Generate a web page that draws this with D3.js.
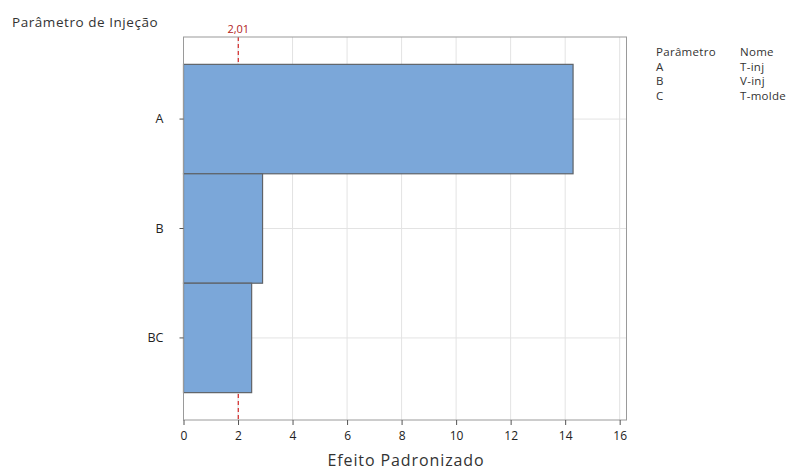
<!DOCTYPE html>
<html>
<head>
<meta charset="utf-8">
<script src="https://d3js.org/d3.v7.min.js"></script>
<style>
  html, body { margin: 0; padding: 0; background: #fff; }
  svg { display: block; font-family: "Open Sans", "Noto Sans", sans-serif; }
</style>
</head>
<body>
<svg id="chart" width="795" height="470"></svg>
<script>
// Pareto of standardized effects
const terms = ["A", "B", "BC"];
const effects = [14.29, 2.90, 2.50];
const xTicks = [0, 2, 4, 6, 8, 10, 12, 14, 16];
const criticalValue = 2.01;
const criticalLabel = "2,01";
const legendParams = ["A", "B", "C"];
const legendNames = ["T-inj", "V-inj", "T-molde"];

const svg = d3.select("#chart");
const plot = { left: 183.5, right: 626.5, top: 37, bottom: 420 };

const x = d3.scaleLinear().domain([0, 16.25]).range([plot.left, plot.right]);
const y = d3.scaleBand().domain(terms).range([plot.top, plot.bottom])
  .paddingInner(0).paddingOuter(0.25);

const gridColor = "#e3e3e3";
const frameColor = "#9a9a9a";

// gridlines
svg.append("g").selectAll("line.vg").data(xTicks.filter(d => d > 0)).join("line")
  .attr("x1", d => x(d)).attr("x2", d => x(d))
  .attr("y1", plot.top).attr("y2", plot.bottom)
  .attr("stroke", gridColor).attr("stroke-width", 1);
svg.append("g").selectAll("line.hg").data(terms).join("line")
  .attr("x1", plot.left).attr("x2", plot.right)
  .attr("y1", d => y(d) + y.bandwidth() / 2).attr("y2", d => y(d) + y.bandwidth() / 2)
  .attr("stroke", gridColor).attr("stroke-width", 1);

// critical value reference line (sits behind the bars)
svg.append("line")
  .attr("x1", x(criticalValue)).attr("x2", x(criticalValue))
  .attr("y1", plot.top).attr("y2", plot.bottom)
  .attr("stroke", "#d42a2a").attr("stroke-width", 1.2)
  .attr("stroke-dasharray", "4,3");
svg.append("text")
  .attr("x", x(criticalValue)).attr("y", 33)
  .attr("text-anchor", "middle")
  .attr("fill", "#b22222").attr("font-size", 11)
  .text(criticalLabel);

// bars
svg.append("g").selectAll("rect").data(terms).join("rect")
  .attr("x", x(0))
  .attr("y", d => y(d))
  .attr("width", (d, i) => x(effects[i]) - x(0))
  .attr("height", y.bandwidth())
  .attr("fill", "#7ba7d9")
  .attr("stroke", "#5f6368")
  .attr("stroke-width", 1.2);

// frame
svg.append("rect")
  .attr("x", plot.left).attr("y", plot.top)
  .attr("width", plot.right - plot.left).attr("height", plot.bottom - plot.top)
  .attr("fill", "none").attr("stroke", frameColor).attr("stroke-width", 1);

// x axis
const xAxis = d3.axisBottom(x).tickValues(xTicks).tickSize(5).tickPadding(6)
  .tickFormat(d3.format("d"));
const gx = svg.append("g").attr("transform", `translate(0,${plot.bottom})`).call(xAxis);
gx.select(".domain").remove();
gx.selectAll("line").attr("stroke", "#555");
gx.selectAll("text").attr("font-size", 12).attr("fill", "#222")
  .attr("font-family", "'Open Sans', sans-serif");

// y axis
const yAxis = d3.axisLeft(y).tickSize(4).tickPadding(16);
const gy = svg.append("g").attr("transform", `translate(${plot.left},0)`).call(yAxis);
gy.select(".domain").remove();
gy.selectAll("line").attr("stroke", "#555");
gy.selectAll("text").attr("font-size", 12.5).attr("fill", "#222")
  .attr("font-family", "'Open Sans', sans-serif");

// axis titles
svg.append("text")
  .attr("x", 406).attr("y", 466)
  .attr("text-anchor", "middle").attr("font-size", 16).attr("fill", "#333")
  .attr("letter-spacing", 0.9)
  .text("Efeito Padronizado");
svg.append("text")
  .attr("x", 12).attr("y", 27)
  .attr("font-size", 13.5).attr("fill", "#333")
  .attr("letter-spacing", 0.55)
  .text("Parâmetro de Injeção");

// legend table
const legend = svg.append("g").attr("font-size", 11.5).attr("fill", "#333")
  .attr("letter-spacing", 0.3);
const rowY = i => 56 + i * 14.5;
legend.append("text").attr("x", 656).attr("y", rowY(0)).text("Parâmetro");
legend.append("text").attr("x", 740).attr("y", rowY(0)).text("Nome");
legendParams.forEach((p, i) => {
  legend.append("text").attr("x", 656).attr("y", rowY(i + 1)).text(p);
  legend.append("text").attr("x", 740).attr("y", rowY(i + 1)).text(legendNames[i]);
});
</script>
</body>
</html>
